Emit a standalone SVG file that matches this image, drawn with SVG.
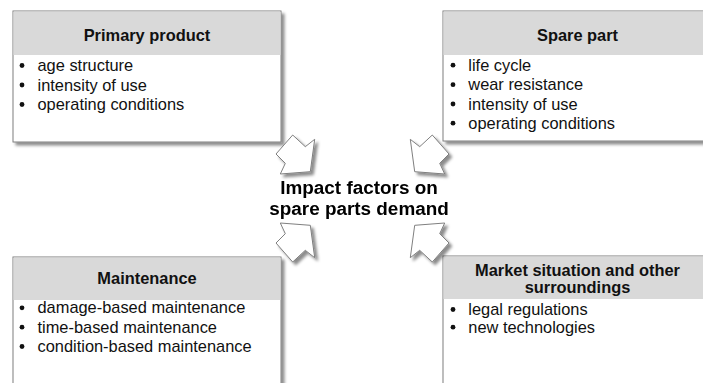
<svg xmlns="http://www.w3.org/2000/svg" width="703" height="383" viewBox="0 0 703 383">
<defs>
<filter id="sh" x="-10%" y="-10%" width="130%" height="130%">
<feDropShadow dx="3" dy="3" stdDeviation="1.8" flood-color="#000" flood-opacity="0.45"/>
</filter>
<polygon id="arr" points="292.7,135 305.3,146.7 314.7,139.3 310.3,171.7 280.3,174 285.3,163.3 276,154"/>
</defs>
<style>
.box{fill:#fff;stroke:#7f7f7f;stroke-width:1}
.hdr{fill:#d9d9d9}
.ht{font-family:"Liberation Sans",Arial,sans-serif;font-weight:bold;font-size:16.4px;fill:#111;text-anchor:middle}
.bt{font-family:"Liberation Sans",Arial,sans-serif;font-size:16.4px;fill:#111}
.dot{fill:#111}
.arrow{fill:#fff;stroke:#7f7f7f;stroke-width:1;stroke-linejoin:miter}
.ct{font-family:"Liberation Sans",Arial,sans-serif;font-weight:bold;font-size:18.9px;fill:#000;text-anchor:middle}
</style>
<rect width="703" height="383" fill="#fff"/>

<g id="primary-product">
<rect class="box" x="13" y="11" width="268" height="131" filter="url(#sh)"/>
<rect class="hdr" x="13.5" y="11.5" width="267" height="43.5"/>
<text class="ht" x="147" y="40.7">Primary product</text>
<circle class="dot" cx="22" cy="65.5" r="2.4"/><text class="bt" x="37.5" y="71">age structure</text>
<circle class="dot" cx="22" cy="85" r="2.4"/><text class="bt" x="37.5" y="90.5">intensity of use</text>
<circle class="dot" cx="22" cy="104.5" r="2.4"/><text class="bt" x="37.5" y="110">operating conditions</text>
</g>

<g id="spare-part">
<rect class="box" x="443" y="11" width="270" height="130" filter="url(#sh)"/>
<rect class="hdr" x="443.5" y="11.5" width="269" height="43.5"/>
<text class="ht" x="577.5" y="40.7">Spare part</text>
<circle class="dot" cx="453" cy="65.2" r="2.4"/><text class="bt" x="468.3" y="70.7">life cycle</text>
<circle class="dot" cx="453" cy="84.7" r="2.4"/><text class="bt" x="468.3" y="90.2">wear resistance</text>
<circle class="dot" cx="453" cy="104" r="2.4"/><text class="bt" x="468.3" y="109.5">intensity of use</text>
<circle class="dot" cx="453" cy="123.2" r="2.4"/><text class="bt" x="468.3" y="128.7">operating conditions</text>
</g>

<g id="maintenance">
<rect class="box" x="13" y="257" width="268" height="140" filter="url(#sh)"/>
<rect class="hdr" x="13.5" y="257.5" width="267" height="42.5"/>
<text class="ht" x="147" y="284.3">Maintenance</text>
<circle class="dot" cx="22" cy="307.8" r="2.4"/><text class="bt" x="37.5" y="313.3">damage-based maintenance</text>
<circle class="dot" cx="22" cy="327.2" r="2.4"/><text class="bt" x="37.5" y="332.7">time-based maintenance</text>
<circle class="dot" cx="22" cy="346.5" r="2.4"/><text class="bt" x="37.5" y="352">condition-based maintenance</text>
</g>

<g id="market-situation">
<rect class="box" x="443" y="256" width="270" height="140" filter="url(#sh)"/>
<rect class="hdr" x="443.5" y="256.5" width="269" height="42.5"/>
<text class="ht" x="577.5" y="275.7">Market situation and other</text>
<text class="ht" x="577.5" y="293.3">surroundings</text>
<circle class="dot" cx="453" cy="309.5" r="2.4"/><text class="bt" x="468.3" y="315">legal regulations</text>
<circle class="dot" cx="453" cy="327.2" r="2.4"/><text class="bt" x="468.3" y="332.7">new technologies</text>
</g>

<g id="connectors" filter="url(#sh)">
<use href="#arr" class="arrow"/>
<use href="#arr" class="arrow" transform="translate(725,0) scale(-1,1)"/>
<use href="#arr" class="arrow" transform="translate(0,397) scale(1,-1)"/>
<use href="#arr" class="arrow" transform="translate(725,397) scale(-1,-1)"/>
</g>

<g id="center">
<text class="ct" x="359" y="194">Impact factors on</text>
<text class="ct" x="359" y="214.5">spare parts demand</text>
</g>
</svg>
